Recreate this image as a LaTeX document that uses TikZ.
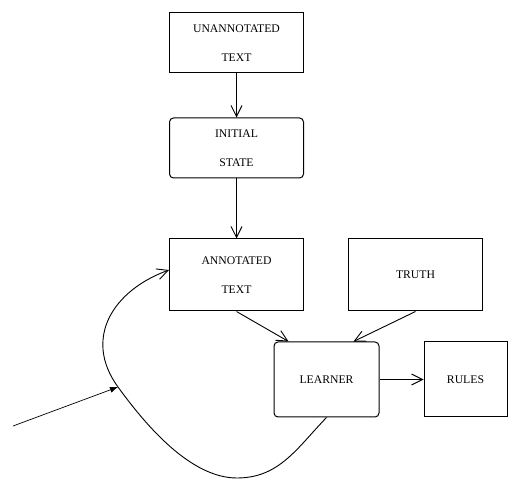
\documentclass[tikz,border=0pt]{standalone}
\usepackage{fontspec}
\setmainfont{Liberation Serif}
\usetikzlibrary{arrows.meta, positioning}

\begin{document}
\begin{tikzpicture}[
    x=1pt, y=1pt,
    >={Straight Barb[length=11pt,width=11pt]},
    block/.style={rectangle, draw, line width=1pt, minimum width=134pt, align=center,
                  font=\fontsize{11.7}{14}\selectfont},
    roundblock/.style={block, rounded corners=4pt},
    link/.style={->, line width=0.9pt}
]
\useasboundingbox (0,0) rectangle (521,489);

\node[block, minimum height=60pt] (utext) at (236.5,446) {UNANNOTATED\\[15pt]TEXT};
\node[roundblock, minimum height=60pt, below=44pt of utext] (init) {INITIAL\\[15pt]STATE};
\node[block, minimum height=72pt, below=60pt of init] (atext) {ANNOTATED\\[15pt]TEXT};
\node[block, minimum height=72pt, right=44pt of atext] (truth) {TRUTH};
\node[roundblock, minimum width=105pt, minimum height=75pt] (learner) at (326.5,109.5) {LEARNER};
\node[block, minimum width=83pt, minimum height=75pt, right=44pt of learner] (rules) {RULES};

\coordinate (bot) at (237,11);
\coordinate (mid) at (118,102);
\coordinate (src) at (13,63);

\draw[link] (utext) -- (init);
\draw[link] (init) -- (atext);
\draw[link] (atext.south) -- ([xshift=15pt]learner.north west);
\draw[link] (truth.south) -- ([xshift=-26pt]learner.north east);
\draw[link] (learner) -- (rules);

% feedback loop back into the annotated text
\draw[link] (learner.south) to[out=226, in=0] (bot)
    to[out=180, in=-54, looseness=0.8] (mid)
    to[out=126, in=200, looseness=1.2] ([yshift=5pt]atext.west);
\draw[-{Latex[length=8pt,width=6pt]}, line width=0.7pt] (src) -- (mid);
\end{tikzpicture}
\end{document}
